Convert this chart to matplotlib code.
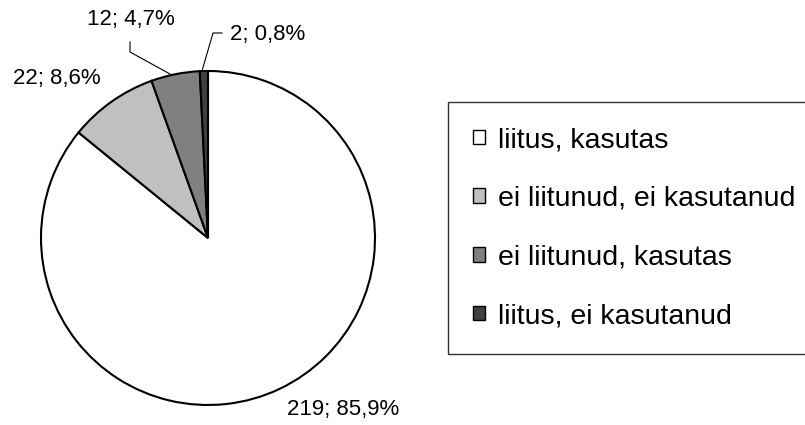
import matplotlib.pyplot as plt

plt.rcParams['font.family'] = ['Liberation Sans', 'DejaVu Sans']

categories = ['liitus, kasutas', 'ei liitunud, ei kasutanud',
              'ei liitunud, kasutas', 'liitus, ei kasutanud']
counts = [219, 22, 12, 2]
colors = ['#ffffff', '#c0c0c0', '#808080', '#404040']

total = sum(counts)
labels = ['%d; %s%%' % (c, ('%.1f' % (100.0 * c / total)).replace('.', ','))
          for c in counts]

H = 425
fig = plt.figure(figsize=(8.05, 4.25), dpi=100)
ax = fig.add_axes([0, 0, 1, 1])
ax.set_xlim(0, 805)
ax.set_ylim(0, H)
ax.set_aspect('equal')
ax.axis('off')

wedges, _ = ax.pie(counts, colors=colors, startangle=90, counterclock=False,
                   center=(208, H - 238), radius=167,
                   wedgeprops=dict(edgecolor='black', linewidth=1.5))
ax.set_xlim(0, 805)
ax.set_ylim(0, H)

# data labels (pixel positions from the top-left)
lab_pos = [(287, 410), (13, 78), (87, 19), (230, 34)]
for (x, y), txt in zip(lab_pos, labels):
    ax.text(x, H - y, txt, fontsize=16, ha='left', va='center')

# leader lines
ax.plot([130, 130, 170], [H - 42, H - 52, H - 74], color='black', lw=0.8)
ax.plot([222, 213, 202], [H - 33, H - 33, H - 71], color='black', lw=0.8)

leg = ax.legend(wedges, categories, loc='upper left',
                bbox_to_anchor=(448 / 805, 1 - 102 / H),
                bbox_transform=fig.transFigure, borderaxespad=0,
                fontsize=20.5, frameon=True, fancybox=False,
                handlelength=0.42, handleheight=0.42, handletextpad=0.45,
                labelspacing=1.15, borderpad=0.88)
leg.get_frame().set_edgecolor('black')
leg.get_frame().set_linewidth(1.0)
for h in leg.legend_handles:
    h.set_edgecolor('black')
    h.set_linewidth(1.0)

fig.savefig('out.png', dpi=100)
